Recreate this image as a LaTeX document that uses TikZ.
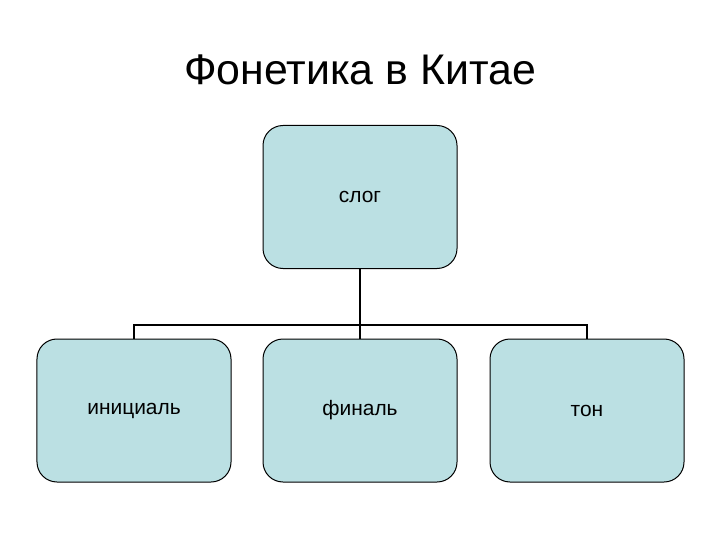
\documentclass[tikz,border=0pt]{standalone}
\usepackage{fontspec}
\setmainfont{Liberation Sans}
\definecolor{boxfill}{HTML}{BBE0E3}
\begin{document}
\begin{tikzpicture}[x=1bp,y=-1bp,
  boxnode/.style={draw=black, line width=1bp, fill=boxfill, rounded corners=20bp,
    minimum width=194bp, minimum height=143bp, inner sep=0pt, font=\fontsize{21}{25}\selectfont},
  conn/.style={line width=2bp}]
\useasboundingbox (0,0) rectangle (720,540);
\node[font=\fontsize{43}{50}\selectfont] (title) at (360,70) {Фонетика в Китае};
\node[boxnode] (slog) at (360,197) {слог};
\node[boxnode] (ini) at (134,410.5) {инициаль};
\node[boxnode] (fin) at (360,410.5) {финаль};
\node[boxnode] (ton) at (587,410.5) {тон};
\coordinate (bus) at (360,325);
\draw[conn, line width=2.5bp] (slog.south) -- (bus);
\draw[conn] (ini.north) |- (bus) -| (ton.north);
\draw[conn] (bus) -- (fin.north);
\end{tikzpicture}
\end{document}
